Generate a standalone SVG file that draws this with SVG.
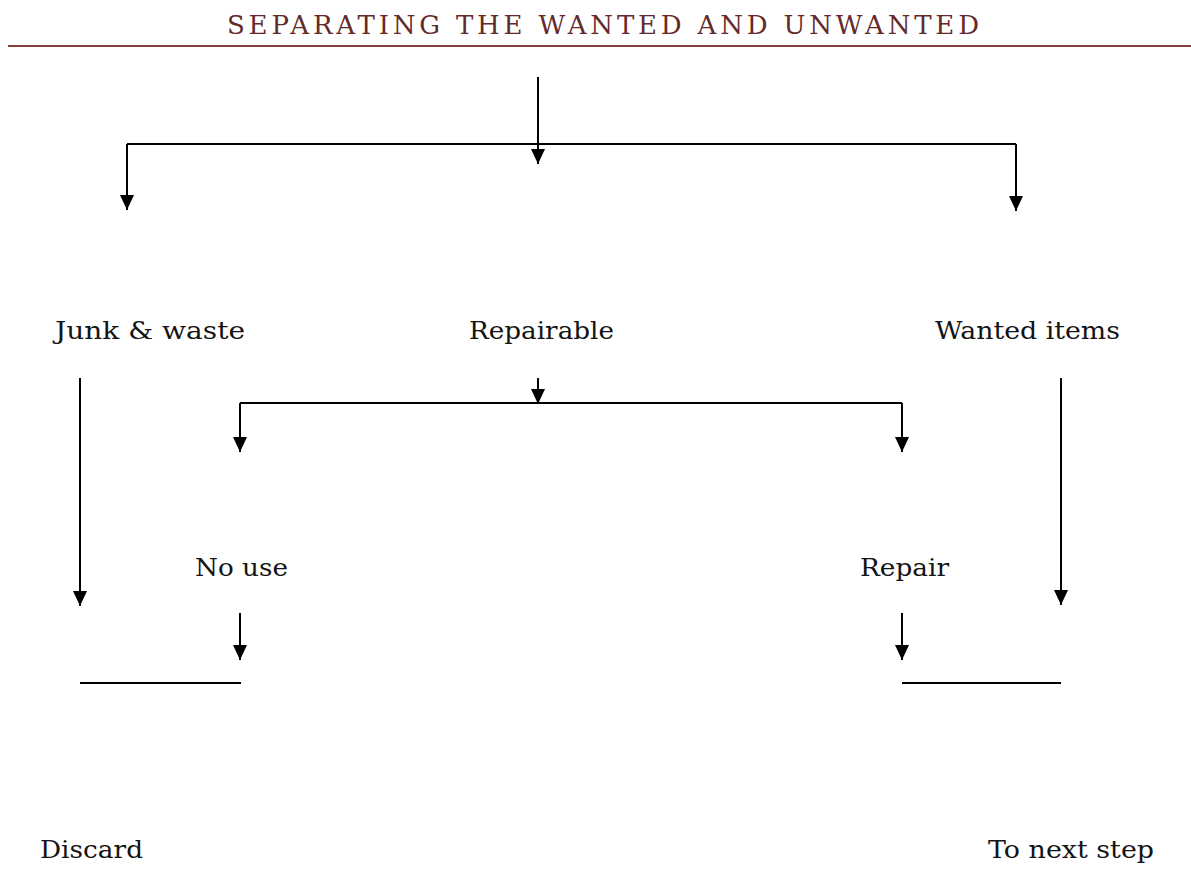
<svg xmlns="http://www.w3.org/2000/svg" width="1191" height="883" viewBox="0 0 1191 883">
<defs>
<marker id="ah" markerUnits="userSpaceOnUse" markerWidth="16" markerHeight="14" refX="15" refY="7" orient="auto">
<path d="M0,0 L15,7 L0,14 z" fill="#000"/>
</marker>
<style>
.t{font-family:"DejaVu Serif","Liberation Serif",serif;font-size:25px;fill:#141414}
.title{font-family:"DejaVu Serif","Liberation Serif",serif;font-size:26px;fill:#642a2a}
.c{stroke:#000;stroke-width:2;fill:none}
.a{stroke:#000;stroke-width:2;fill:none;marker-end:url(#ah)}
</style>
</defs>
<rect width="1191" height="883" fill="#fff"/>
<g id="title">
<text class="title" x="227" y="34" textLength="752" lengthAdjust="spacing">SEPARATING THE WANTED AND UNWANTED</text>
<line x1="8" y1="46" x2="1191" y2="46" stroke="#8a3e3e" stroke-width="2"/>
</g>
<g id="connectors">
<path class="a" d="M538,77 V164"/>
<path class="c" d="M127,144 H1016"/>
<path class="a" d="M127,144 V210"/>
<path class="a" d="M1016,144 V211"/>
<path class="a" d="M80,378 V606"/>
<path class="a" d="M538,378 V404"/>
<path class="c" d="M240,403 H902"/>
<path class="a" d="M240,403 V452"/>
<path class="a" d="M902,403 V452"/>
<path class="a" d="M1061,378 V605"/>
<path class="a" d="M240,613 V660"/>
<path class="a" d="M902,613 V660"/>
<path class="c" d="M80,683 H241"/>
<path class="c" d="M902,683 H1061"/>
</g>
<g id="junk"><text class="t" x="55" y="339" textLength="190" lengthAdjust="spacingAndGlyphs">Junk &amp; waste</text></g>
<g id="repairable"><text class="t" x="469" y="339" textLength="145" lengthAdjust="spacingAndGlyphs">Repairable</text></g>
<g id="wanted"><text class="t" x="935" y="339" textLength="185" lengthAdjust="spacingAndGlyphs">Wanted items</text></g>
<g id="nouse"><text class="t" x="195" y="576" textLength="93" lengthAdjust="spacingAndGlyphs">No use</text></g>
<g id="repair"><text class="t" x="860" y="576" textLength="89" lengthAdjust="spacingAndGlyphs">Repair</text></g>
<g id="discard"><text class="t" x="40" y="858" textLength="103" lengthAdjust="spacingAndGlyphs">Discard</text></g>
<g id="nextstep"><text class="t" x="988" y="858" textLength="166" lengthAdjust="spacingAndGlyphs">To next step</text></g>
</svg>
